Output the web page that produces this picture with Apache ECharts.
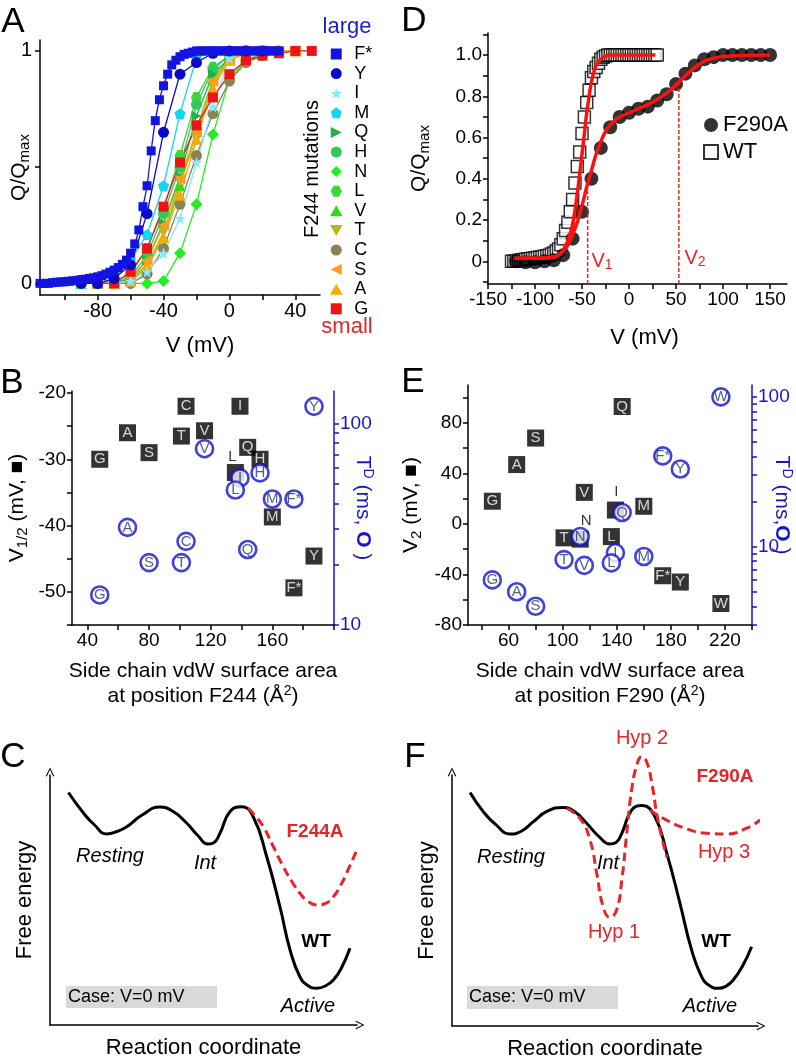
<!DOCTYPE html>
<html><head><meta charset="utf-8">
<script src="https://cdn.jsdelivr.net/npm/echarts@6/dist/echarts.min.js"></script>
<style>html,body{margin:0;padding:0;background:#fff}#c{width:796px;height:1062px}</style>
</head><body><div id="c"></div>
<script>
const FONT = '"Liberation Sans", Arial, sans-serif';

// ---------- Panel A : Q/Qmax vs V for F244 mutations ----------
const A_NAMES = ['F*','Y','I','M','Q','H','N','L','V','T','C','S','A','G'];
const A_FSTAR = [[-115,0],[-112.5,0],[-110,0],[-107.5,0.003],[-105,0.005],[-102.5,0.006],[-100,0.007],[-97.5,0.009],[-95,0.011],[-92.5,0.013],[-90,0.016],[-87.5,0.018],[-85,0.021],[-82.5,0.024],[-80,0.028],[-77.5,0.033],[-75,0.04],[-72.5,0.048],[-70,0.057],[-67.5,0.068],[-65,0.082],[-62.5,0.1],[-60,0.13],[-57.5,0.17],[-55,0.23],[-52.5,0.33],[-50,0.42],[-47.5,0.57],[-45,0.7],[-42.5,0.79],[-40,0.85],[-37.5,0.9],[-35,0.94],[-32.5,0.96],[-30,0.975],[-27.5,0.985],[-25,0.99],[-22.5,0.995],[-20,1],[-17.5,1],[-15,1],[-12.5,1],[-10,1],[-7.5,1],[-5,1],[-2.5,1],[0,1],[2.5,1],[5,1],[7.5,1],[10,1],[12.5,1],[15,1],[17.5,1],[20,1],[22.5,1],[25,1],[27.5,1],[30,1]];
const A_Y = [[-90,0],[-80,0],[-70,0.02],[-60,0.08],[-50,0.3],[-40,0.65],[-30,0.9],[-20,0.95],[-10,0.99],[0,1],[10,1],[20,1]];
const A_I = [[-90,0],[-80,0],[-70,0],[-60,0.01],[-50,0.05],[-40,0.13],[-30,0.28],[-20,0.52],[-10,0.76],[0,0.97],[10,1],[20,1],[30,1]];
const A_M = [[-90,0],[-80,0],[-70,0.02],[-60,0.1],[-50,0.21],[-40,0.42],[-30,0.73],[-20,0.97],[-10,1],[0,1],[10,1]];
const A_Q = [[-90,0],[-80,0],[-70,0],[-60,0.02],[-50,0.1],[-40,0.26],[-30,0.46],[-20,0.72],[-10,0.9],[0,0.97],[10,1],[20,1]];
const A_H = [[-90,0],[-80,0],[-70,0],[-60,0.03],[-50,0.12],[-40,0.3],[-30,0.5],[-20,0.77],[-10,0.92],[0,0.98],[10,1]];
const A_N = [[-90,0],[-80,0],[-70,0],[-60,0],[-50,0],[-40,0.01],[-30,0.13],[-20,0.34],[-10,0.64],[0,0.88],[10,0.96],[20,0.99],[30,1]];
const A_L = [[-90,0],[-80,0],[-70,0.01],[-60,0.04],[-50,0.15],[-40,0.32],[-30,0.55],[-20,0.8],[-10,0.93],[0,0.98],[10,1]];
const A_V = [[-90,0],[-80,0],[-70,0],[-60,0.01],[-50,0.07],[-40,0.2],[-30,0.42],[-20,0.66],[-10,0.88],[0,0.97],[10,1],[20,1]];
const A_T = [[-80,0],[-70,0],[-60,0.01],[-50,0.08],[-40,0.22],[-30,0.44],[-20,0.62],[-10,0.86],[0,0.96],[10,0.99],[20,1]];
const A_C = [[-80,0],[-70,0],[-60,0],[-50,0.04],[-40,0.15],[-30,0.34],[-20,0.55],[-10,0.73],[0,0.87],[10,0.95],[20,0.98],[30,1]];
const A_S = [[-80,0],[-70,0],[-60,0.01],[-50,0.1],[-40,0.25],[-30,0.45],[-20,0.65],[-10,0.87],[0,0.96],[10,0.99],[20,1],[30,1],[40,1]];
const A_A = [[-80,0],[-70,0],[-60,0.01],[-50,0.08],[-40,0.2],[-30,0.38],[-20,0.62],[-10,0.84],[0,0.96],[10,0.99],[20,1],[30,1],[40,1]];
const A_G = [[-80,0],[-70,0],[-60,0.05],[-50,0.15],[-40,0.33],[-30,0.52],[-20,0.68],[-10,0.8],[0,0.9],[10,0.96],[20,0.98],[30,0.99],[40,1],[50,1]];
const A_XTICKS = [-100,-80,-60,-40,-20,0,20,40];
const A_XLABELS = [-80,-40,0,40];

// ---------- Panel D : F290A vs WT ----------
const D_WT = [[-125,0],[-122.5,0],[-120,0.002],[-117.5,0.004],[-115,0.006],[-112.5,0.008],[-110,0.01],[-107.5,0.012],[-105,0.013],[-102.5,0.015],[-100,0.016],[-97.5,0.018],[-95,0.02],[-92.5,0.022],[-90,0.025],[-87.5,0.027],[-85,0.03],[-82.5,0.035],[-80,0.04],[-77.5,0.05],[-75,0.06],[-72.5,0.08],[-70,0.11],[-67.5,0.15],[-65,0.19],[-62.5,0.24],[-60,0.3],[-57.5,0.38],[-55,0.46],[-52.5,0.53],[-50,0.62],[-47.5,0.7],[-45,0.77],[-42.5,0.83],[-40,0.89],[-37.5,0.92],[-35,0.94],[-32.5,0.96],[-30,0.98],[-27.5,0.99],[-25,0.995],[-22.5,1],[-20,1],[-17.5,1],[-15,1],[-12.5,1],[-10,1],[-7.5,1],[-5,1],[-2.5,1],[0,1],[2.5,1],[5,1],[7.5,1],[10,1],[12.5,1],[15,1],[17.5,1],[20,1],[22.5,1],[25,1],[27.5,1],[30,1]];
const D_F290A = [[-120,0],[-110,-0.005],[-100,-0.005],[-90,0],[-80,0.005],[-70,0.03],[-60,0.11],[-50,0.24],[-40,0.4],[-30,0.55],[-20,0.65],[-10,0.7],[0,0.72],[10,0.74],[20,0.75],[30,0.78],[40,0.81],[50,0.86],[60,0.91],[70,0.95],[80,0.98],[90,0.99],[100,1],[110,1],[120,1],[130,1],[140,1],[150,1]];
const D_WT_FIT = [[-122,0.015],[-110,0.015],[-100,0.015],[-90,0.017],[-80,0.022],[-75,0.03],[-70,0.055],[-65,0.1],[-60,0.18],[-55,0.33],[-50,0.52],[-47.5,0.62],[-45,0.72],[-42.5,0.8],[-40,0.87],[-35,0.95],[-30,0.98],[-25,0.995],[-20,1],[0,1],[28,1]];
const D_F290A_FIT = [[-120,0.015],[-100,0.015],[-90,0.015],[-80,0.02],[-75,0.03],[-70,0.05],[-65,0.08],[-60,0.13],[-55,0.19],[-50,0.27],[-45,0.36],[-40,0.44],[-35,0.52],[-30,0.58],[-25,0.63],[-20,0.66],[-15,0.685],[-10,0.7],[0,0.72],[10,0.74],[20,0.76],[30,0.785],[40,0.815],[50,0.855],[60,0.9],[70,0.94],[80,0.97],[90,0.985],[100,0.993],[120,0.998],[150,1]];
const D_V1 = [[-44,-0.11],[-44,0.34]];
const D_V2 = [[53,-0.11],[53,0.855]];
const D_XTICKS = [-150,-125,-100,-75,-50,-25,0,25,50,75,100,125,150];
const D_XLABELS = [-150,-100,-50,0,50,100,150];
const D_YTICKS = [-0.1,0,0.1,0.2,0.3,0.4,0.5,0.6,0.7,0.8,0.9,1.0,1.1];
const D_YLABELS = [0,0.2,0.4,0.6,0.8,1.0];

// ---------- Panels B & E : residues ----------
const RES  = ['G','A','S','T','C','V','N','I','L','Q','H','M','F*','Y','W'];
const AREA = [48,66,80,101,104,116,113,139,136,144,152,160,174,187,217];
const B_VHALF = [-30,-26,-29,-26.5,-22,-25.7,null,-22,-32,-28.2,-30,-38.7,-49.4,-44.6,null];
const B_TD    = [14.1,30.5,20.4,20.4,26,75,null,53.7,46.8,23.7,56.9,42.2,42.2,121.6,null];
const E_V2    = [18,47,68,-11,null,25,-12,11,-10,93,null,14,-41,-46,-63];
const E_TD    = [6.0,5.0,4.0,8.2,null,7.5,11.7,9.1,7.8,16.9,null,8.6,40.4,33,100];
const B_XTICKS = [40,60,80,100,120,140,160,180,200];
const B_XLABELS = [40,80,120,160];
const B_YTICKS = [-55,-50,-45,-40,-35,-30,-25,-20];
const B_YLABELS = [-50,-40,-30,-20];
const B_LOGTICKS = [10,20,30,40,50,60,70,80,90,100];
const B_LOGLABELS = [10,100];
const E_XTICKS = [40,60,80,100,120,140,160,180,200,220,240];
const E_XLABELS = [60,100,140,180,220];
const E_YTICKS = [-80,-60,-40,-20,0,20,40,60,80,100];
const E_YLABELS = [-80,-40,0,40,80];
const E_LOGTICKS = [3,4,5,6,7,8,9,10,20,30,40,50,60,70,80,90,100];
const E_LOGLABELS = [10,100];

// ---------- Panels C & F : energy landscapes (schematic) ----------
const C_WT = [[6,93],[10.9,84.8],[14.5,80],[18.5,76.4],[22,77.5],[25,79.3],[30,84],[35.8,87.2],[40,85.5],[44.5,80.8],[48,76],[51.6,72.4],[53.5,73],[55.4,76.8],[58.6,85.3],[62.4,87.3],[66.2,83.3],[70.6,67.3],[74.9,47.3],[78.2,30],[81.4,19.3],[84,15.8],[86.9,14.7],[89.5,15.5],[92.3,18],[95,23],[97.7,30.7]];
const C_F244A = [[64.6,86.7],[67,83.5],[69.5,79.3],[72.5,72],[76,63.3],[79,57],[81.4,52.7],[84,49.5],[86.9,48],[89.5,48.5],[92.3,51.3],[94.5,55.5],[96.6,60.7],[99.7,69.3]];
const F_WT = [[5.9,93],[10.2,85.4],[14.5,80],[19,76.5],[22.5,77.5],[26.6,81.4],[31,85.5],[36.4,87.1],[40,85.5],[44,80.8],[48,75.5],[51.6,72.5],[53.5,73],[55.5,76.8],[58.7,86],[62,87.8],[66.3,83.4],[70.2,68.8],[74.5,48.9],[78.3,30.3],[81.6,19.6],[84.2,16],[87,15],[89.5,15.8],[91.9,18.3],[95,24],[97.9,31.6]];
const F_HYP12 = [[37.5,86.7],[41.8,82.7],[45.1,74.1],[47.3,60.8],[49.4,47.5],[51.6,43.3],[53.8,46.2],[55.5,58.2],[57.1,76.8],[58.7,94],[60.4,104],[62,107.3],[63.6,105.3],[65.3,96.7],[66.9,84.7],[68.5,75.4],[70.2,67.4]];
const F_HYP3 = [[64.7,86],[69.1,82.7],[75.6,79],[83.2,76.8],[89.8,76.5],[96.3,78.8],[100.7,82.1]];

// ---------- styles ----------
const SYM = {
  sq: 'path://M0,0 L10,0 L10,10 L0,10 Z',
  star: 'path://M50,0 L61,35 L98,35 L68,57 L79,91 L50,70 L21,91 L32,57 L2,35 L39,35 Z',
  pent: 'path://M50,0 L100,38 L81,100 L19,100 L0,38 Z',
  right: 'path://M0,0 L100,50 L0,100 Z',
  dia: 'path://M50,0 L100,50 L50,100 L0,50 Z',
  hex: 'path://M25,0 L75,0 L100,50 L75,100 L25,100 L0,50 Z',
  up: 'path://M50,0 L100,88 L0,88 Z',
  down: 'path://M0,0 L100,0 L50,88 Z',
  left: 'path://M100,0 L0,50 L100,100 Z'
};
const A_STYLE = {
  'F*':{c:'#1414e0', s:SYM.sq, z:9, d:A_FSTAR},
  'Y':{c:'#0808c8', s:'circle', z:11, d:A_Y},
  'I':{c:'#85eaff', s:SYM.star, z:12, d:A_I},
  'M':{c:'#14d6f2', s:SYM.pent, z:11, d:A_M},
  'Q':{c:'#20b04a', s:SYM.right, z:10, d:A_Q},
  'H':{c:'#2fca58', s:'circle', z:11, d:A_H},
  'N':{c:'#22ee22', s:SYM.dia, z:12, d:A_N},
  'L':{c:'#3ad63a', s:SYM.hex, z:11, d:A_L},
  'V':{c:'#2adf10', s:SYM.up, z:11, d:A_V},
  'T':{c:'#b9b522', s:SYM.down, z:11, d:A_T},
  'C':{c:'#8a8452', s:'circle', z:11, d:A_C},
  'S':{c:'#ff9c1e', s:SYM.left, z:11, d:A_S},
  'A':{c:'#ffa800', s:SYM.up, z:11, d:A_A},
  'G':{c:'#ee1414', s:SYM.sq, z:10, d:A_G}
};
const DRAW_ORDER = ['N','L','V','H','Q','T','C','S','A','I','M','G','Y','F*'];
const BLUE = '#1616c8';
const RED = '#e4262a';
const NAVY = '#233a6c';
const CHEV = 'path://M0,10 L5,0 L10,10 L8.8,10.6 L5,2.6 L1.2,10.6 Z';

function merge(a, b) {
  const out = Array.isArray(a) ? a.slice() : Object.assign({}, a);
  for (const k in b) {
    if (b[k] && typeof b[k] === 'object' && !Array.isArray(b[k]) && a && a[k] && typeof a[k] === 'object' && !Array.isArray(a[k])) out[k] = merge(a[k], b[k]);
    else out[k] = b[k];
  }
  return out;
}
function ax(o, color) {
  const col = color || '#000';
  return merge({
    type: 'value', splitLine: {show: false},
    axisLine: {show: true, onZero: false, lineStyle: {color: col, width: 1.5}},
    axisTick: {show: true, length: 5, lineStyle: {color: col, width: 1.5}},
    axisLabel: {color: col, fontSize: 19, fontFamily: FONT, margin: 6},
    nameTextStyle: {color: col, fontFamily: FONT, fontSize: 21}
  }, o);
}
const richBase = (col) => ({
  a: {fontSize: 21, fontFamily: FONT, color: col},
  sub: {fontSize: 15, fontFamily: FONT, color: col, padding: [10, 0, 0, 0]},
  sup: {fontSize: 14, fontFamily: FONT, color: col, padding: [0, 0, 10, 0]},
  o: {fontSize: 21, fontFamily: FONT, color: col, fontWeight: 'bold'}
});

function resPoints(vals, overrides) {
  const out = [];
  RES.forEach((r, i) => {
    if (vals[i] == null) return;
    const p = {name: r, value: [AREA[i], vals[i]]};
    if (overrides && overrides[r]) p.label = overrides[r];
    out.push(p);
  });
  return out;
}

const xAxis = [
  ax({gridIndex: 0, min: -115, max: 55, axisTick: {customValues: A_XTICKS}, axisLabel: {customValues: A_XLABELS, fontSize: 20},
      name: 'V (mV)', nameLocation: 'middle', nameGap: 40, nameTextStyle: {fontSize: 22, padding: [0, 0, 0, 40]}}),
  ax({gridIndex: 1, min: -150, max: 168, axisTick: {customValues: D_XTICKS}, axisLabel: {customValues: D_XLABELS},
      name: 'V (mV)', nameLocation: 'middle', nameGap: 43, nameTextStyle: {fontSize: 22, padding: [0, 0, 0, 14]}}),
  ax({gridIndex: 2, min: 30, max: 200, axisTick: {customValues: B_XTICKS}, axisLabel: {customValues: B_XLABELS},
      name: '{a|Side chain vdW surface area}\n{a|at position F244 (Å}{sup|2}{a|)}', nameLocation: 'middle', nameGap: 34,
      nameTextStyle: {lineHeight: 25, rich: richBase('#000')}}),
  ax({gridIndex: 3, min: 30, max: 240, axisTick: {customValues: E_XTICKS}, axisLabel: {customValues: E_XLABELS},
      name: '{a|Side chain vdW surface area}\n{a|at position F290 (Å}{sup|2}{a|)}', nameLocation: 'middle', nameGap: 34,
      nameTextStyle: {lineHeight: 25, rich: richBase('#000')}}),
  ax({gridIndex: 4, min: 0, max: 100, axisTick: {show: false}, axisLabel: {show: false},
      axisLine: {symbol: ['none', CHEV], symbolSize: [11, 9], symbolOffset: [0, 3]},
      name: 'Reaction coordinate', nameLocation: 'middle', nameGap: 12, nameTextStyle: {fontSize: 22, verticalAlign: 'top'}}),
  ax({gridIndex: 5, min: 0, max: 100, axisTick: {show: false}, axisLabel: {show: false},
      axisLine: {symbol: ['none', CHEV], symbolSize: [11, 9], symbolOffset: [0, 3]},
      name: 'Reaction coordinate', nameLocation: 'middle', nameGap: 12, nameTextStyle: {fontSize: 22, verticalAlign: 'top'}})
];
const yAxis = [
  ax({gridIndex: 0, min: -0.05, max: 1.047, axisTick: {customValues: [0, 0.5, 1]}, axisLabel: {customValues: [0, 1], fontSize: 20, margin: 8},
      name: '{a|Q/Q}{sub|max}', nameLocation: 'middle', nameGap: 8, nameMoveOverlap: false, nameTextStyle: {rich: richBase('#000')}}),
  ax({gridIndex: 1, min: -0.11, max: 1.107, axisTick: {customValues: D_YTICKS},
      axisLabel: {customValues: D_YLABELS, formatter: v => (v === 0 ? '0' : v.toFixed(1)), margin: 6},
      name: '{a|Q/Q}{sub|max}', nameLocation: 'middle', nameGap: 56, nameTextStyle: {rich: richBase('#000')}}),
  ax({gridIndex: 2, min: -55, max: -19.7, axisTick: {customValues: B_YTICKS}, axisLabel: {customValues: B_YLABELS},
      name: '{a|V}{sub|1/2}{a| (mV, ■)}', nameLocation: 'middle', nameGap: 42, nameTextStyle: {rich: richBase('#000')}}),
  ax({gridIndex: 2, type: 'log', logBase: 10, position: 'right', min: 10, max: 145,
      axisTick: {customValues: B_LOGTICKS}, axisLabel: {customValues: B_LOGLABELS, formatter: v => String(Math.round(v)), color: BLUE},
      name: '{a|T}{sup|D}{a| (ms, }{o|O}{a| )}', nameLocation: 'middle', nameGap: 17, nameRotate: -90, nameMoveOverlap: false,
      nameTextStyle: {rich: richBase(BLUE)}}, BLUE),
  ax({gridIndex: 3, min: -80, max: 110, axisTick: {customValues: E_YTICKS}, axisLabel: {customValues: E_YLABELS},
      name: '{a|V}{sub|2}{a| (mV, ■)}', nameLocation: 'middle', nameGap: 44, nameTextStyle: {rich: richBase('#000')}}),
  ax({gridIndex: 3, type: 'log', logBase: 10, position: 'right', min: 3, max: 120,
      axisTick: {customValues: E_LOGTICKS}, axisLabel: {customValues: E_LOGLABELS, formatter: v => String(Math.round(v)), color: BLUE},
      name: '{a|T}{sup|D}{a| (ms,}{o|O}{a| )}', nameLocation: 'middle', nameGap: 18, nameRotate: -90, nameMoveOverlap: false,
      nameTextStyle: {rich: richBase(BLUE)}}, BLUE),
  ax({gridIndex: 4, min: 0, max: 100, axisTick: {show: false}, axisLabel: {show: false},
      axisLine: {symbol: ['none', CHEV], symbolSize: [11, 9], symbolOffset: [0, 3]},
      name: 'Free energy', nameLocation: 'middle', nameGap: 14, nameTextStyle: {fontSize: 22}}),
  ax({gridIndex: 5, min: 0, max: 100, axisTick: {show: false}, axisLabel: {show: false},
      axisLine: {symbol: ['none', CHEV], symbolSize: [11, 9], symbolOffset: [0, 3]},
      name: 'Free energy', nameLocation: 'middle', nameGap: 14, nameTextStyle: {fontSize: 22}})
];

const series = [];
DRAW_ORDER.forEach(n => {
  const st = A_STYLE[n];
  series.push({
    name: n, type: 'line', xAxisIndex: 0, yAxisIndex: 0, data: st.d,
    symbol: st.s, symbolSize: n === 'F*' ? 9 : st.z, showAllSymbol: true,
    lineStyle: {color: st.c, width: 1.3}, itemStyle: {color: st.c}, smooth: n === 'F*' ? 0.3 : false,
    emphasis: {disabled: true}
  });
});
// Panel D
series.push({name: 'WT', type: 'scatter', xAxisIndex: 1, yAxisIndex: 1, data: D_WT, symbol: SYM.sq, symbolSize: 12,
  itemStyle: {color: '#fff', borderColor: '#000', borderWidth: 1.5}});
series.push({name: 'F290A', type: 'scatter', xAxisIndex: 1, yAxisIndex: 1, data: D_F290A, symbol: 'circle', symbolSize: 14,
  itemStyle: {color: '#000'}});
series.push({name: 'WT fit', type: 'line', xAxisIndex: 1, yAxisIndex: 1, data: D_WT_FIT, smooth: 0.4, showSymbol: false,
  lineStyle: {color: '#ff1010', width: 3.5}});
series.push({name: 'F290A fit', type: 'line', xAxisIndex: 1, yAxisIndex: 1, data: D_F290A_FIT, smooth: 0.4, showSymbol: false,
  lineStyle: {color: '#ff1010', width: 3.5}});
series.push({name: 'V1', type: 'line', xAxisIndex: 1, yAxisIndex: 1, data: D_V1, showSymbol: false,
  lineStyle: {color: RED, width: 1.5, type: [4, 2]}});
series.push({name: 'V2', type: 'line', xAxisIndex: 1, yAxisIndex: 1, data: D_V2, showSymbol: false,
  lineStyle: {color: RED, width: 1.5, type: [4, 2]}});
// Panels B and E
const sqLabel = {show: true, position: 'inside', formatter: p => p.name, color: '#fff', fontSize: 15, fontFamily: FONT};
const ciLabel = {show: true, position: 'inside', formatter: p => p.name, color: NAVY, fontSize: 15, fontFamily: FONT};
const ciStyle = {color: '#fff', borderColor: '#1010d2', borderWidth: 2.6};
series.push({name: 'B V1/2', type: 'scatter', xAxisIndex: 2, yAxisIndex: 2, symbol: SYM.sq, symbolSize: 17,
  itemStyle: {color: '#000'}, label: sqLabel,
  data: resPoints(B_VHALF, {L: {color: '#000', offset: [-3, -16]}})});
series.push({name: 'B TD', type: 'scatter', xAxisIndex: 2, yAxisIndex: 3, symbol: 'circle', symbolSize: 17,
  itemStyle: ciStyle, label: ciLabel, data: resPoints(B_TD)});
series.push({name: 'E V2', type: 'scatter', xAxisIndex: 3, yAxisIndex: 4, symbol: SYM.sq, symbolSize: 17,
  itemStyle: {color: '#000'}, label: sqLabel,
  data: resPoints(E_V2, {I: {color: '#000', offset: [1, -18]}, N: {color: '#000', offset: [6, -18]}})});
series.push({name: 'E TD', type: 'scatter', xAxisIndex: 3, yAxisIndex: 5, symbol: 'circle', symbolSize: 17,
  itemStyle: ciStyle, label: ciLabel, data: resPoints(E_TD)});
// Panels C and F
const solid = {color: '#000', width: 3};
const dash = {color: RED, width: 3, type: [9, 5]};
series.push({name: 'C WT', type: 'line', xAxisIndex: 4, yAxisIndex: 6, data: C_WT, smooth: 0.5, showSymbol: false, lineStyle: solid, clip: false});
series.push({name: 'C F244A', type: 'line', xAxisIndex: 4, yAxisIndex: 6, data: C_F244A, smooth: 0.5, showSymbol: false, lineStyle: dash, clip: false, z: 3});
series.push({name: 'F WT', type: 'line', xAxisIndex: 5, yAxisIndex: 7, data: F_WT, smooth: 0.5, showSymbol: false, lineStyle: solid, clip: false});
series.push({name: 'F Hyp12', type: 'line', xAxisIndex: 5, yAxisIndex: 7, data: F_HYP12, smooth: 0.5, showSymbol: false, lineStyle: dash, clip: false, z: 3});
series.push({name: 'F Hyp3', type: 'line', xAxisIndex: 5, yAxisIndex: 7, data: F_HYP3, smooth: 0.5, showSymbol: false, lineStyle: dash, clip: false, z: 3});

function T(text, x, y, o) {
  return {type: 'text', x: x, y: y, z: 50, rotation: (o && o.rot) || 0,
    style: Object.assign({text: text, fontSize: 21, fontFamily: FONT, fill: '#000', textAlign: 'center', textVerticalAlign: 'middle', align: 'center', verticalAlign: 'middle'}, o && o.style)};
}
const graphic = [
  T('A', 13, 22, {style: {fontSize: 35}}), T('B', 12, 383, {style: {fontSize: 35}}), T('C', 13, 757, {style: {fontSize: 35}}),
  T('D', 414, 21, {style: {fontSize: 35}}), T('E', 413, 382, {style: {fontSize: 35}}), T('F', 415, 757, {style: {fontSize: 35}}),
  T('large', 347, 27, {style: {fill: '#1c1cd8', fontSize: 22}}),
  T('small', 347, 327, {style: {fill: RED, fontSize: 22}}),
  T('F244 mutations', 312, 169, {rot: Math.PI / 2, style: {fontSize: 20}}),
  T('{a|V}{s|1}', 602, 261, {style: {rich: {a: {fontSize: 20, fill: RED, fontFamily: FONT}, s: {fontSize: 14, fill: RED, fontFamily: FONT, padding: [9, 0, 0, 0]}}}}),
  T('{a|V}{s|2}', 695, 258, {style: {rich: {a: {fontSize: 20, fill: RED, fontFamily: FONT}, s: {fontSize: 14, fill: RED, fontFamily: FONT, padding: [9, 0, 0, 0]}}}}),
  // C
  T('F244A', 315, 832, {style: {fill: RED, fontWeight: 'bold', fontSize: 19}}),
  T('Resting', 110, 856, {style: {fontStyle: 'italic', fontSize: 20}}),
  T('Int', 205, 863, {style: {fontStyle: 'italic', fontSize: 20}}),
  T('WT', 316, 942, {style: {fontWeight: 'bold', fontSize: 19}}),
  T('Active', 308, 1006, {style: {fontStyle: 'italic', fontSize: 20}}),
  {type: 'rect', shape: {x: 66, y: 986, width: 151, height: 22}, style: {fill: '#d9d9d9'}, z: 1},
  T('Case: V=0 mV', 68, 997, {style: {textAlign: 'left', align: 'left', fontSize: 18}}),
  // F
  T('Hyp 2', 642, 738, {style: {fill: RED, fontSize: 20}}),
  T('F290A', 725, 777, {style: {fill: RED, fontWeight: 'bold', fontSize: 19}}),
  T('Resting', 511, 857, {style: {fontStyle: 'italic', fontSize: 20}}),
  T('Int', 608, 863, {style: {fontStyle: 'italic', fontSize: 20}}),
  T('Hyp 3', 724, 852, {style: {fill: RED, fontSize: 20}}),
  T('Hyp 1', 614, 932, {style: {fill: RED, fontSize: 20}}),
  T('WT', 716, 942, {style: {fontWeight: 'bold', fontSize: 19}}),
  T('Active', 710, 1006, {style: {fontStyle: 'italic', fontSize: 20}}),
  {type: 'rect', shape: {x: 467, y: 986, width: 151, height: 23}, style: {fill: '#d9d9d9'}, z: 1},
  T('Case: V=0 mV', 469, 997, {style: {textAlign: 'left', align: 'left', fontSize: 18}})
];

const G = (l, t, w, h) => ({left: l, top: t, width: w, height: h, containLabel: false, outerBoundsMode: 'none'});
const option = {
  animation: false,
  backgroundColor: '#fff',
  textStyle: {fontFamily: FONT},
  grid: [
    G(40, 40, 280, 255),
    G(488, 33, 299, 251),
    G(72, 391, 262, 234),
    G(468, 385, 284, 240),
    G(50, 775, 307, 250),
    G(452, 775, 306, 251)
  ],
  legend: [
    {orient: 'vertical', left: 330, top: 45, itemWidth: 26, itemHeight: 11, itemGap: 1.6, padding: 0,
     selectedMode: false, textStyle: {fontSize: 18, color: '#000', fontFamily: FONT},
     data: A_NAMES.map(n => ({name: n, icon: A_STYLE[n].s}))},
    {orient: 'vertical', left: 703, top: 114, itemWidth: 14, itemHeight: 14, itemGap: 5, padding: 0,
     selectedMode: false, textStyle: {fontSize: 22, color: '#000', fontFamily: FONT},
     data: [{name: 'F290A', icon: 'circle'}, {name: 'WT', icon: SYM.sq}]}
  ],
  xAxis: xAxis,
  yAxis: yAxis,
  series: series,
  graphic: graphic
};
const chart = echarts.init(document.getElementById('c'), null, {renderer: 'canvas', width: 796, height: 1062});
chart.setOption(option);
</script>
</body></html>
